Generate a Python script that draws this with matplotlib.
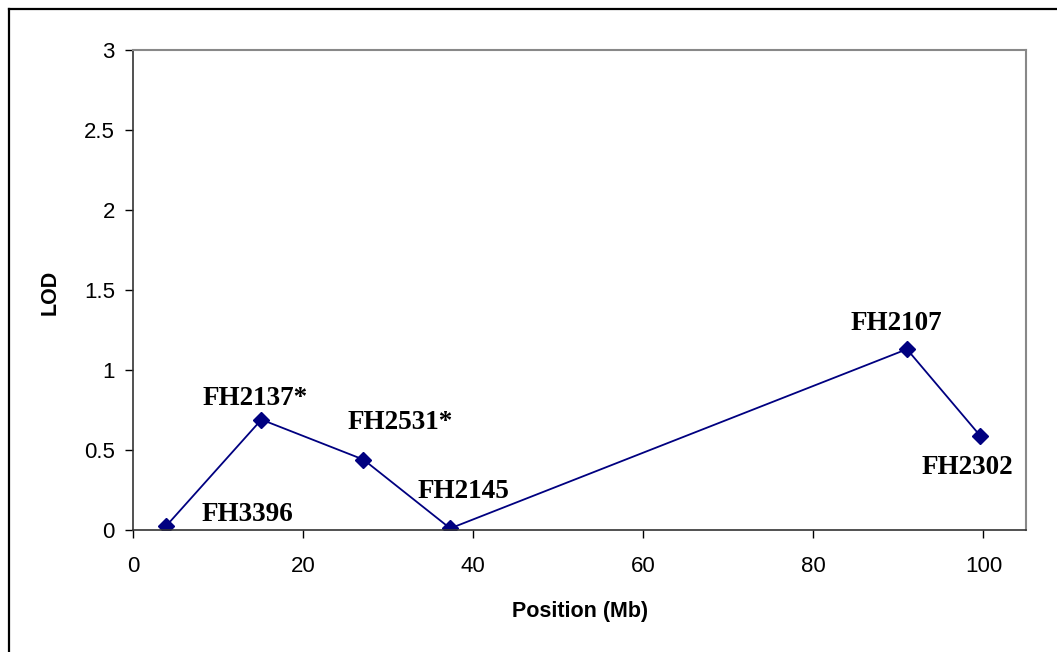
import matplotlib
matplotlib.use("Agg")
import matplotlib.pyplot as plt
from matplotlib.lines import Line2D

positions = [3.9, 15.1, 27.1, 37.3, 91.0, 99.6]
lod = [0.025, 0.69, 0.44, 0.01, 1.13, 0.59]
markers = ["FH3396", "FH2137*", "FH2531*", "FH2145", "FH2107", "FH2302"]
label_xy = [(13.5, 0.094), (14.4, 0.82), (31.4, 0.67), (38.9, 0.24), (89.8, 1.29), (98.1, 0.39)]

W, H = 1057, 652
fig = plt.figure(figsize=(W / 100, H / 100), dpi=100)
ax = fig.add_axes([133 / W, 1 - 530 / H, (1026 - 133) / W, (530 - 50) / H])

ax.plot(positions, lod, color="#000080", lw=1.3, marker="D", markersize=8,
        markerfacecolor="#000080", markeredgecolor="#000080")

for (lx, ly), name in zip(label_xy, markers):
    ax.text(lx, ly, name, ha="center", va="center", fontsize=19.5,
            fontweight="bold", family="Liberation Serif", color="black")

ax.set_xlim(0, 105)
ax.set_ylim(0, 3)
ax.set_xticks([0, 20, 40, 60, 80, 100])
ax.set_yticks([0, 0.5, 1, 1.5, 2, 2.5, 3])
ax.set_yticklabels(["0", "0.5", "1", "1.5", "2", "2.5", "3"])
ax.tick_params(direction="out", length=6, width=1, labelsize=16)
ax.tick_params(axis="x", pad=13)
ax.tick_params(axis="y", pad=7)
for lbl in ax.get_xticklabels() + ax.get_yticklabels():
    lbl.set_family("Liberation Sans")

for s in ["left", "bottom"]:
    ax.spines[s].set_color("#333333")
    ax.spines[s].set_linewidth(1.2)
for s in ["top", "right"]:
    ax.spines[s].set_color("#888888")
    ax.spines[s].set_linewidth(1.5)

fig.text(50 / W, 1 - 292 / H, "LOD", rotation=90, ha="center", va="center",
         fontsize=15.5, fontweight="bold", family="Liberation Sans")
fig.text(580 / W, 1 - 612 / H, "Position (Mb)", ha="center", va="center",
         fontsize=15.5, fontweight="bold", family="Liberation Sans")

# outer chart border (left and top visible)
fig.add_artist(Line2D([8.5 / W, 8.5 / W], [0, 1 - 9 / H], transform=fig.transFigure,
                      color="black", lw=1.6))
fig.add_artist(Line2D([8.5 / W, 1], [1 - 9 / H, 1 - 9 / H], transform=fig.transFigure,
                      color="black", lw=1.6))

fig.savefig("out.png", dpi=100)
